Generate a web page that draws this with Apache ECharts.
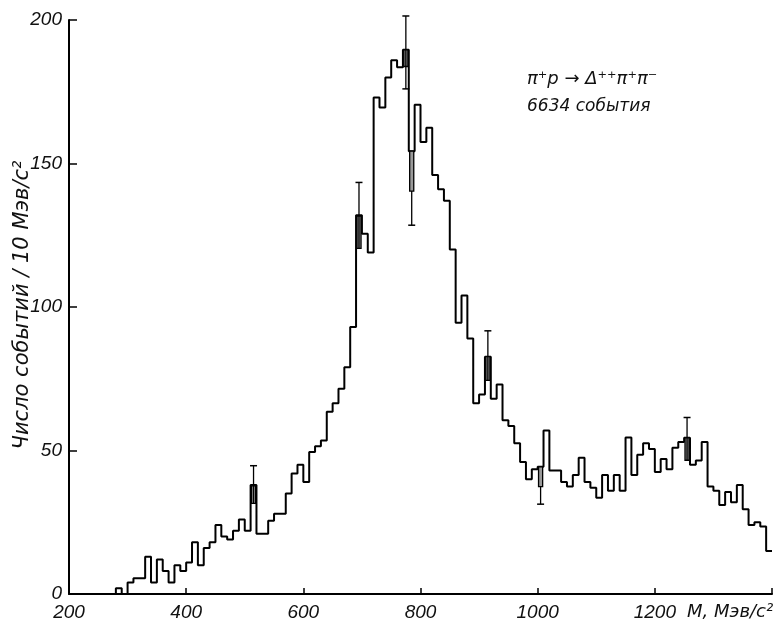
<!DOCTYPE html>
<html><head><meta charset="utf-8">
<script src="https://cdn.jsdelivr.net/npm/echarts@6.0.0/dist/echarts.min.js"></script>
<style>html,body{margin:0;padding:0;background:#fff}#c{width:779px;height:622px}</style>
</head><body><div id="c"></div>
<script>
// Bin lower edges (MeV/c^2), 10 MeV bins
const binStart = [
  270, 280, 290, 300, 310, 320, 330, 340, 350, 360, 370, 380, 390,
  400, 410, 420, 430, 440, 450, 460, 470, 480, 490,
  500, 510, 520, 530, 540, 550, 560, 570, 580, 590,
  600, 610, 620, 630, 640, 650, 660, 670, 680, 690,
  700, 710, 720, 730, 740, 750, 760, 770, 780, 790,
  800, 810, 820, 830, 840, 850, 860, 870, 880, 890,
  900, 910, 920, 930, 940, 950, 960, 970, 980, 990,
  1000, 1010, 1020, 1030, 1040, 1050, 1060, 1070, 1080, 1090,
  1100, 1110, 1120, 1130, 1140, 1150, 1160, 1170, 1180, 1190,
  1200, 1210, 1220, 1230, 1240, 1250, 1260, 1270, 1280, 1290,
  1300, 1310, 1320, 1330, 1340, 1350, 1360, 1370, 1380, 1390
];
// Events per bin
const counts = [
  0, 2, 0, 4, 5.5, 5.5, 13, 4, 12, 8, 4, 10, 8,
  11, 18, 10, 16, 18, 24, 20, 19, 22, 26,
  22, 38, 21, 21, 25.5, 28, 28, 35, 42, 45,
  39, 49.5, 51.5, 53.5, 63.5, 66.5, 71.5, 79, 93, 132,
  125.5, 119, 173, 169.5, 180, 186, 183.5, 189.6, 154.3, 170.5,
  157.5, 162.5, 146, 141, 137, 120, 94.5, 104, 89, 66.5,
  69.5, 82.7, 68, 73, 60.5, 58.5, 52.5, 46, 40, 43.5,
  44.3, 57, 43, 43, 39, 37.5, 41.5, 47.5, 39, 37,
  33.5, 41.5, 36, 41.5, 36, 54.5, 41.5, 48.5, 52.5, 50.5,
  42.5, 47, 43.5, 51, 53, 54.4, 45, 46.5, 53, 37.5,
  36, 31, 35.5, 32, 38, 29.5, 24, 25, 23.5, 15
];
const lastEdge = 1400;
const binWidth = 10;

// Error markers: bin, box (low/high), line (low/high)
const errBin    = [510, 690, 770, 780, 910, 1000, 1250];
const errBoxLo  = [31.6, 120.4, 183.8, 140.4, 74.4, 37.4, 46.6];
const errBoxHi  = [37.7, 131.7, 189.6, 154.3, 82.7, 44.3, 54.4];
const errLineLo = [31.6, 120.4, 176.0, 128.5, 74.4, 31.3, 46.6];
const errLineHi = [44.7, 143.4, 201.4, 140.4, 91.7, 37.4, 61.5];

const xTickHidden = [1400];

const histData = binStart.map((b, i) => [b, counts[i]]);
histData.push([lastEdge, counts[counts.length - 1]]);
const errData = errBin.map((b, i) => [b, errBoxLo[i], errBoxHi[i], errLineLo[i], errLineHi[i]]);

const txtFamily = '"DejaVu Sans", sans-serif';

const chart = echarts.init(document.getElementById('c'), null, {renderer: 'canvas'});
chart.setOption({
  animation: false,
  backgroundColor: '#fff',
  grid: {left: 69, right: 7, top: 20, bottom: 26, containLabel: false},
  xAxis: {
    type: 'value', min: 200, max: 1400, interval: 200,
    axisLine: {show: true, lineStyle: {color: '#000', width: 2}},
    axisTick: {show: true, inside: true, length: 6, lineStyle: {color: '#000', width: 1.5}},
    splitLine: {show: false},
    axisLabel: {
      margin: 9, color: '#111', fontStyle: 'italic', fontSize: 19,
      fontFamily: '"Liberation Sans Narrow", "Liberation Sans", sans-serif',
      formatter: v => xTickHidden.indexOf(v) >= 0 ? '' : String(v)
    }
  },
  yAxis: {
    type: 'value', min: 0, max: 200, interval: 50,
    axisLine: {show: true, lineStyle: {color: '#000', width: 2}},
    axisTick: {show: true, inside: true, length: 8, lineStyle: {color: '#000', width: 1.5}},
    splitLine: {show: false},
    axisLabel: {
      margin: 7, color: '#111', fontStyle: 'italic', fontSize: 19,
      fontFamily: '"Liberation Sans Narrow", "Liberation Sans", sans-serif'
    }
  },
  series: [
    {
      type: 'line', step: 'end', data: histData, symbol: 'none',
      lineStyle: {color: '#000', width: 2}, z: 3
    },
    {
      type: 'custom', data: errData, z: 4,
      renderItem: function (params, api) {
        const b = api.value(0), bl = api.value(1), bh = api.value(2), ll = api.value(3), lh = api.value(4);
        const pA = api.coord([b + 1.5, bh]);
        const pB = api.coord([b + binWidth - 1.5, bl]);
        const cx = api.coord([b + binWidth / 2, 0])[0];
        const yLL = api.coord([b, ll])[1];
        const yLH = api.coord([b, lh])[1];
        const children = [
          {type: 'rect', shape: {x: pA[0], y: pA[1], width: pB[0] - pA[0], height: pB[1] - pA[1]},
           style: {fill: '#9a9a9a', stroke: '#000', lineWidth: 1.3}},
          {type: 'line', shape: {x1: cx, y1: yLL, x2: cx, y2: yLH}, style: {stroke: '#000', lineWidth: 1.3}}
        ];
        if (lh > bh + 0.1) children.push({type: 'line', shape: {x1: cx - 3.5, y1: yLH, x2: cx + 3.5, y2: yLH}, style: {stroke: '#000', lineWidth: 1.5}});
        if (ll < bl - 0.1) children.push({type: 'line', shape: {x1: cx - 3.5, y1: yLL, x2: cx + 3.5, y2: yLL}, style: {stroke: '#000', lineWidth: 1.5}});
        return {type: 'group', children: children};
      }
    }
  ],
  graphic: [
    {type: 'text', x: 23, y: 305, rotation: Math.PI / 2,
     style: {text: 'Число событий / 10 Мэв/с²', fill: '#111', align: 'center', verticalAlign: 'middle',
             font: 'italic 21px ' + txtFamily}},
    {type: 'text', x: 687, y: 612,
     style: {text: 'M, Мэв/с²', fill: '#111', align: 'left', verticalAlign: 'middle',
             font: 'italic 18px ' + txtFamily}},
    {type: 'text', x: 527, y: 79,
     style: {text: 'π⁺p → Δ⁺⁺π⁺π⁻', fill: '#111', align: 'left', verticalAlign: 'middle',
             font: 'italic 18px ' + txtFamily}},
    {type: 'text', x: 527, y: 107,
     style: {text: '6634 события', fill: '#111', align: 'left', verticalAlign: 'middle',
             font: 'italic 17px ' + txtFamily}}
  ]
});
</script></body></html>
